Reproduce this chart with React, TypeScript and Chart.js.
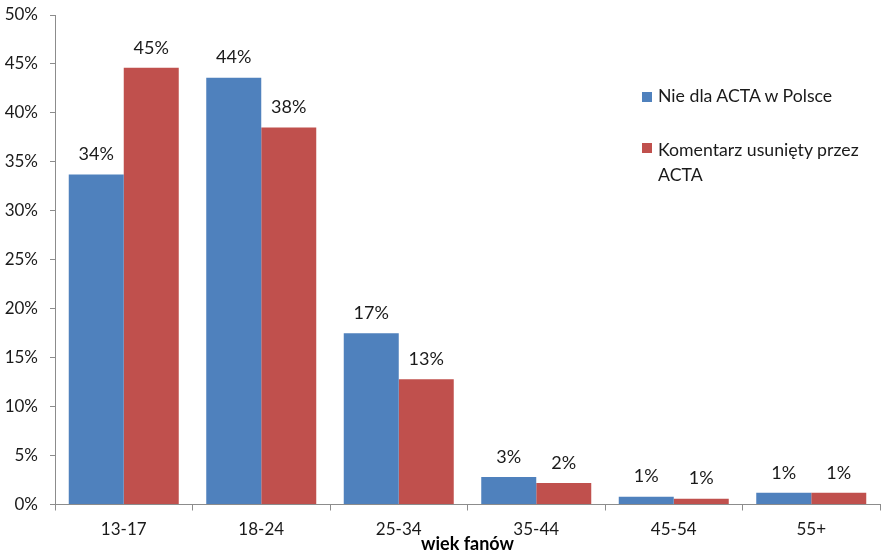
import React, { useEffect, useRef } from "react";
import { Chart, registerables } from "chart.js";

Chart.register(...registerables);

const categories = ["13-17", "18-24", "25-34", "35-44", "45-54", "55+"];
const seriesNames = ["Nie dla ACTA w Polsce", "Komentarz usunięty przez ACTA"];
const seriesA = [33.7, 43.6, 17.5, 2.8, 0.8, 1.2];
const seriesB = [44.6, 38.5, 12.8, 2.2, 0.6, 1.2];
const labelsA = ["34%", "44%", "17%", "3%", "1%", "1%"];
const labelsB = ["45%", "38%", "13%", "2%", "1%", "1%"];
const xTitle = "wiek fanów";

const BLUE = "#4F81BD";
const RED = "#C0504D";
const FONT = "Lato, 'Noto Sans', sans-serif";

const dataLabelPlugin = {
  id: "dataLabels",
  afterDatasetsDraw(chart: any) {
    const ctx = chart.ctx;
    const texts = [labelsA, labelsB];
    ctx.save();
    ctx.font = `18px ${FONT}`;
    ctx.fillStyle = "#1a1a1a";
    ctx.textAlign = "center";
    ctx.textBaseline = "middle";
    chart.data.datasets.forEach((_ds: any, di: number) => {
      const meta = chart.getDatasetMeta(di);
      meta.data.forEach((bar: any, i: number) => {
        ctx.fillText(texts[di][i], bar.x, bar.y - 20);
      });
    });
    ctx.restore();
  },
};

export default function App() {
  const ref = useRef<HTMLCanvasElement>(null);
  useEffect(() => {
    if (!ref.current) return;
    const chart = new Chart(ref.current, {
      type: "bar",
      data: {
        labels: categories,
        datasets: [
          { label: seriesNames[0], data: seriesA, backgroundColor: BLUE, barPercentage: 1, categoryPercentage: 0.8 },
          { label: seriesNames[1], data: seriesB, backgroundColor: RED, barPercentage: 1, categoryPercentage: 0.8 },
        ],
      },
      options: {
        animation: false,
        responsive: false,
        layout: { padding: { top: 15, right: 5, left: 0, bottom: 0 } },
        plugins: { legend: { display: false }, tooltip: { enabled: false } },
        scales: {
          x: {
            grid: { drawOnChartArea: false, drawTicks: true, tickLength: 6, color: "#8c8c8c", offset: true },
            border: { display: true, color: "#8c8c8c" },
            ticks: { font: { family: FONT, size: 17 }, color: "#1a1a1a", padding: 9 },
            title: { display: true, text: xTitle, font: { family: FONT, size: 18, weight: "bold" }, color: "#000", padding: { top: 0, bottom: 5 } },
            afterFit: (s: any) => { s.height = 55.5; s.paddingLeft = 0; s.paddingRight = 0; },
          },
          y: {
            min: 0,
            max: 50,
            grid: { drawOnChartArea: false, drawTicks: true, tickLength: 5, color: "#8c8c8c" },
            border: { display: true, color: "#8c8c8c" },
            ticks: { stepSize: 5, font: { family: FONT, size: 17 }, color: "#1a1a1a", padding: 12, callback: (v: any) => v + "%" },
            afterFit: (s: any) => { s.width = 55; s.paddingTop = 0; s.paddingBottom = 0; },
          },
        },
      },
      plugins: [dataLabelPlugin],
    });
    return () => chart.destroy();
  }, []);

  const sq = (c: string) => ({ display: "inline-block", width: 10, height: 10, background: c, marginRight: 6, verticalAlign: "middle" as const, position: "relative" as const, top: -1 });

  return (
    <div style={{ position: "fixed", left: 0, top: 0, width: 885, height: 560, background: "#fff" }}>
      <canvas ref={ref} width={885} height={560} style={{ display: "block" }} />
      <div style={{ position: "absolute", left: 642, top: 83, fontFamily: FONT, fontSize: 17.7, color: "#1a1a1a", lineHeight: "25px" }}>
        <div><span style={sq(BLUE)} />{seriesNames[0]}</div>
        <div style={{ marginTop: 29, width: 240, display: "flex" }}>
          <span style={{ ...sq(RED), marginTop: 7, flex: "none" }} />
          <span>{seriesNames[1]}</span>
        </div>
      </div>
    </div>
  );
}
